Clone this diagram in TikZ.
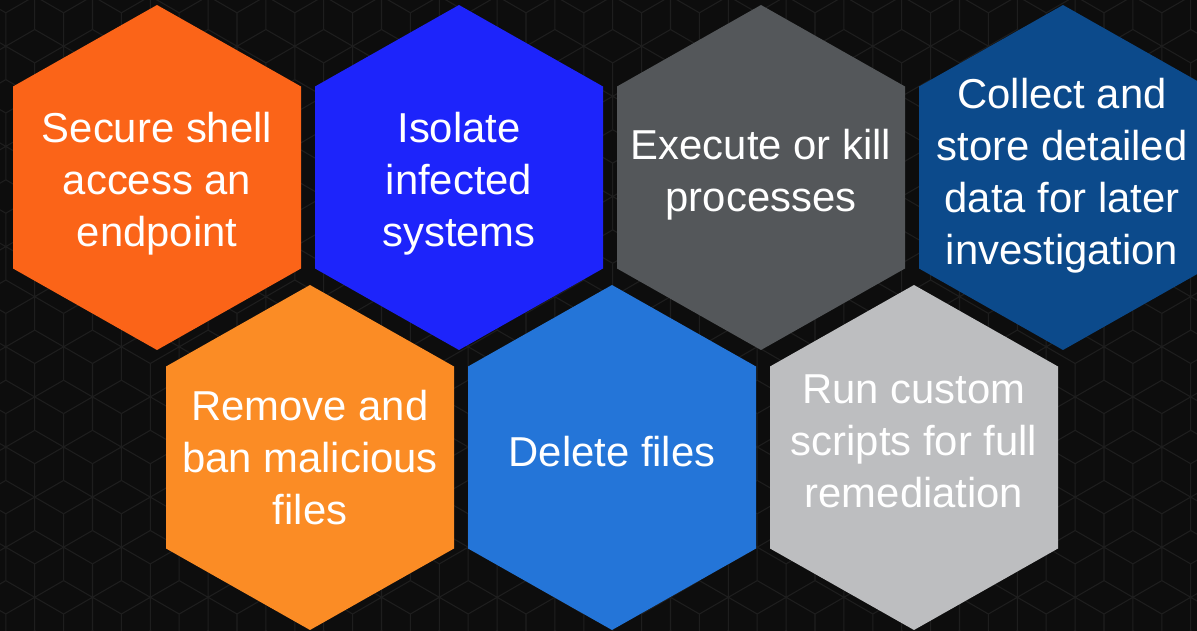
\documentclass[tikz,border=0pt]{standalone}
\usepackage{fontspec}
\setmainfont{Liberation Sans}
\usepackage{tikz}
\definecolor{bgdark}{HTML}{0D0D0D}
\definecolor{gridline}{HTML}{1E1E1E}
\definecolor{hexorange}{HTML}{FB6418}
\definecolor{hexblue}{HTML}{1D24FB}
\definecolor{hexgray}{HTML}{54575A}
\definecolor{hexnavy}{HTML}{0C4A8B}
\definecolor{hexamber}{HTML}{FB8C25}
\definecolor{hexsky}{HTML}{2475D8}
\definecolor{hexsilver}{HTML}{BDBEC0}
\tikzset{lbl/.style={text=white, align=center, inner sep=0pt, font=\fontsize{23.8}{29.6}\selectfont}}

\begin{document}
\begin{tikzpicture}[x=0.02cm, y=-0.02cm]
\useasboundingbox (0,0) rectangle (1197,631);
\clip (0,0) rectangle (1197,631);
\fill[bgdark] (0,0) rectangle (1197,631);
\foreach \j in {-10,...,5}{
\foreach \i in {-21,...,3}{
\pgfmathsetmacro{\px}{1104+57.8*\i+28.9*mod(\j+20,2)}
\pgfmathsetmacro{\py}{447+50.1*\j}
\draw[gridline, line width=0.6pt] (\px,\py) ++(0,-33.4) -- ++(0,66.8) (\px,\py) ++(-28.9,-16.7) -- ++(57.8,33.4) (\px,\py) ++(-28.9,16.7) -- ++(57.8,-33.4);
}}
\fill[hexorange] (157,5) -- ++(144,81.5) -- ++(0,182) -- ++(-144,81.5) -- ++(-144,-81.5) -- ++(0,-182) -- cycle;
\fill[hexblue] (459,5) -- ++(144,81.5) -- ++(0,182) -- ++(-144,81.5) -- ++(-144,-81.5) -- ++(0,-182) -- cycle;
\fill[hexgray] (761,5) -- ++(144,81.5) -- ++(0,182) -- ++(-144,81.5) -- ++(-144,-81.5) -- ++(0,-182) -- cycle;
\fill[hexnavy] (1063,5) -- ++(144,81.5) -- ++(0,182) -- ++(-144,81.5) -- ++(-144,-81.5) -- ++(0,-182) -- cycle;
\fill[hexamber] (310,285) -- ++(144,81.5) -- ++(0,182) -- ++(-144,81.5) -- ++(-144,-81.5) -- ++(0,-182) -- cycle;
\fill[hexsky] (612,285) -- ++(144,81.5) -- ++(0,182) -- ++(-144,81.5) -- ++(-144,-81.5) -- ++(0,-182) -- cycle;
\fill[hexsilver] (914,285) -- ++(144,81.5) -- ++(0,182) -- ++(-144,81.5) -- ++(-144,-81.5) -- ++(0,-182) -- cycle;
\node[lbl] (a) at (157,184) {Secure shell\\access an\\endpoint};
\node[lbl] (b) at (459,184) {Isolate\\infected\\systems};
\node[lbl] (c) at (761,175) {Execute or kill\\processes};
\node[lbl] (d) at (1062,176) {Collect and\\store detailed\\data for later\\investigation};
\node[lbl] (e) at (310,458) {Remove and\\ban malicious\\files};
\node[lbl] (f) at (612,452) {Delete files};
\node[lbl] (g) at (914,441) {Run custom\\scripts for full\\remediation};
\end{tikzpicture}
\end{document}
